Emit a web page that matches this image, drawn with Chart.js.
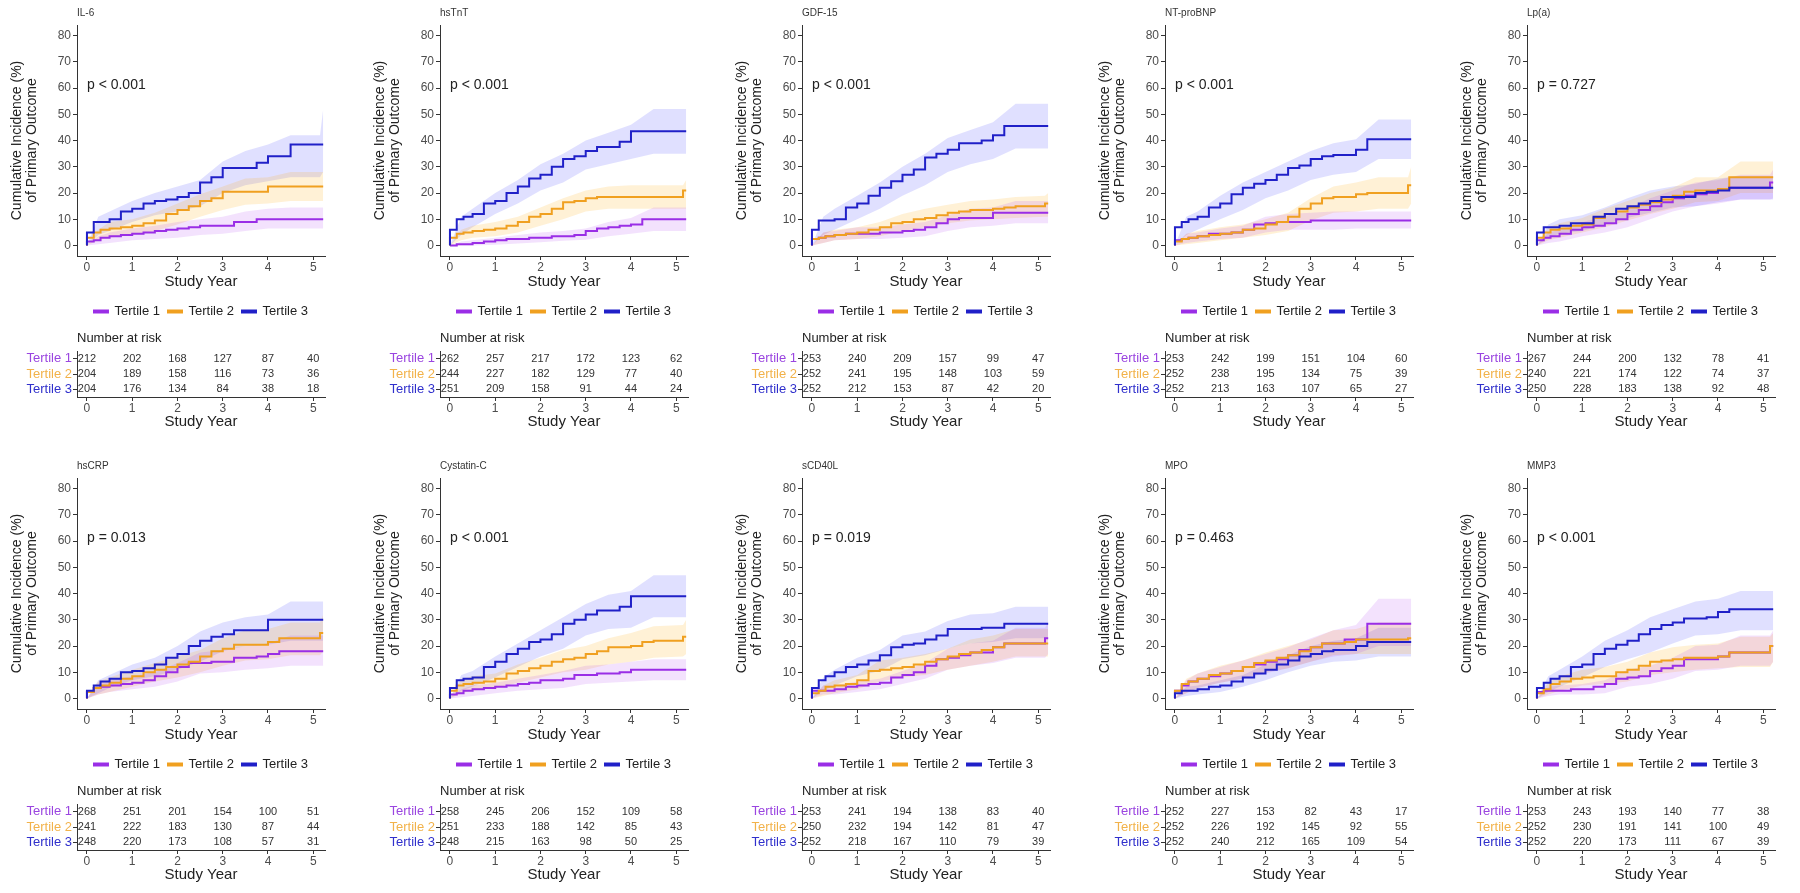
<!DOCTYPE html>
<html>
<head>
<meta charset="utf-8">
<script src="https://cdn.jsdelivr.net/npm/chart.js"></script>
<style>
  body { margin: 0; background: #fff; overflow: hidden; }
  #wrap { position: relative; width: 1800px; height: 893px; background: #fff; }
  #wrap canvas { position: absolute; }
</style>
</head>
<body>
<div id="wrap"></div>
<script>
// ---- data ----
const PANEL_NAMES = ['IL-6', 'hsTnT', 'GDF-15', 'NT-proBNP', 'Lp(a)',
                     'hsCRP', 'Cystatin-C', 'sCD40L', 'MPO', 'MMP3'];
const P_VALUES = ['p < 0.001', 'p < 0.001', 'p < 0.001', 'p < 0.001', 'p = 0.727',
                  'p = 0.013', 'p < 0.001', 'p = 0.019', 'p = 0.463', 'p < 0.001'];
const TERTILES = ['Tertile 1', 'Tertile 2', 'Tertile 3'];
const X_TICKS = [0, 1, 2, 3, 4, 5];
const Y_TICKS = [0, 10, 20, 30, 40, 50, 60, 70, 80];

// time points of the step curves (years)
const TIME_GRID = [0, 0.15, 0.3, 0.5, 0.75, 1, 1.25, 1.5, 1.75, 2, 2.25, 2.5, 2.75, 3, 3.25, 3.5, 3.75, 4, 4.25, 4.5, 5.15, 5.22];
// time points of the confidence bands
const BAND_GRID = [0, 0.25, 0.5, 1, 1.5, 2, 2.5, 3, 3.5, 4, 4.5, 5.15, 5.22];

// cumulative incidence (%) per panel, one row per panel
const EST_T1 = [
  [0, 1.5, 2, 3, 3.5, 4, 4.5, 5, 5.5, 6, 6.5, 7, 7.5, 7.5, 7.5, 9, 9, 10, 10, 10, 10, 10], // IL-6
  [0, 0, 0.5, 0.5, 1, 1.5, 2, 2.5, 2.5, 3, 3, 3.5, 3.5, 4, 5.5, 6.5, 7, 7.5, 8, 10, 10, 10], // hsTnT
  [0, 2.5, 3, 3.5, 4, 4.5, 4.5, 4.5, 5, 5, 5.5, 6, 7, 8.5, 10, 10.5, 10.5, 10.5, 12.5, 12.5, 12.5, 12.5], // GDF-15
  [0, 2, 2.5, 3, 3.5, 4.5, 4.5, 5, 6, 8, 8.5, 9, 9, 9, 9.5, 9.5, 9.5, 9.5, 9.5, 9.5, 9.5, 9.5], // NT-proBNP
  [0, 2, 3, 3.5, 4.5, 6, 7, 7.5, 8.5, 10, 12, 13.5, 15, 16.5, 18, 19, 19.5, 20, 21.5, 22, 22, 24], // Lp(a)
  [0, 2.5, 4, 4.5, 5, 5.5, 6, 7, 8.5, 10, 12, 13.5, 13.5, 14, 14, 15.5, 15.5, 16, 17, 18, 18, 18], // hsCRP
  [0, 1.5, 2, 3, 3.5, 4, 4.5, 5, 5.5, 6, 7, 7, 7.5, 9, 9, 9.5, 9.5, 10, 11, 11, 11, 11], // Cystatin-C
  [0, 3, 3, 3, 3.5, 4.5, 5, 5.5, 6, 8, 9, 10, 12.5, 15, 15.5, 16.5, 17.5, 17.5, 19.5, 21, 21, 23], // sCD40L
  [0, 3, 5, 6.5, 7.5, 8.5, 9.5, 10.5, 12, 13, 14, 15, 16.5, 18.5, 19.5, 21, 21, 22.5, 22.5, 28.5, 28.5, 28.5], // MPO
  [0, 2.5, 3, 3, 3, 3.5, 3.5, 4.5, 5.5, 7.5, 8, 8.5, 10.5, 11.5, 12.5, 15, 15, 15, 16, 17.5, 17.5, 20] // MMP3
];
const EST_T2 = [
  [0, 3, 5, 6, 6.5, 7, 7.5, 8.5, 9.5, 12, 13.5, 15, 17, 18, 20.5, 20.5, 20.5, 20.5, 22.5, 22.5, 22.5, 22.5],
  [0, 3, 4.5, 5, 5.5, 6, 6.5, 7.5, 9, 11, 12, 14, 16.5, 17, 18, 18.5, 18.5, 18.5, 18.5, 18.5, 18.5, 21],
  [0, 2.5, 3, 3.5, 4, 4.5, 5, 6, 7, 8.5, 9, 10, 10.5, 11.5, 12.5, 13, 13.5, 13.5, 14, 14.5, 15, 16],
  [0, 1.5, 2.5, 3, 3.5, 4, 4.5, 5, 6, 6.5, 8, 9, 11, 14, 16, 18, 18.5, 18.5, 19.5, 20, 20, 23],
  [0, 3, 5, 6, 6.5, 7.5, 8, 10.5, 12, 13, 14.5, 15.5, 16.5, 17.5, 19, 20.5, 21, 21, 21.5, 26, 26, 26],
  [0, 2.5, 4, 5, 6, 7.5, 8.5, 10, 11, 12, 13, 14, 16, 18, 19, 20.5, 20.5, 20.5, 21.5, 23, 23, 25],
  [0, 3, 5, 5.5, 6, 6.5, 7.5, 9.5, 10.5, 11.5, 12.5, 14, 15, 15.5, 17, 18, 19.5, 19.5, 20, 21.5, 22, 23.5],
  [0, 2, 3, 4.5, 5, 5.5, 7, 10.5, 11, 11.5, 12, 13, 14, 15, 16, 17, 17.5, 18.5, 19.5, 21, 21, 21],
  [0, 3, 5.5, 6.5, 7.5, 9, 9.5, 10.5, 12, 13.5, 14.5, 15.5, 16.5, 18, 19.5, 21, 21, 21.5, 22.5, 22.5, 22.5, 23],
  [0, 2, 3.5, 5.5, 6.5, 7.5, 8, 8.5, 8.5, 10, 11, 12.5, 14, 14.5, 15, 15.5, 15.5, 15.5, 16, 17.5, 17.5, 20]
];
const EST_T3 = [
  [0, 5, 9, 9, 10, 13, 14, 16, 17, 17.5, 18.5, 20, 24, 26, 29.5, 29.5, 29.5, 31.5, 34, 34, 38.5, 38.5],
  [0, 6, 10, 11, 12, 16, 17, 20, 22.5, 25.5, 27, 30, 33, 34, 36, 37.5, 37.5, 39.5, 43.5, 43.5, 43.5, 43.5],
  [0, 6, 9.5, 9.5, 10, 14.5, 16, 19, 22, 24.5, 27, 29, 33.5, 35, 36.5, 39, 39, 40, 42, 45.5, 45.5, 45.5],
  [0, 7, 9, 10, 11, 14.5, 16, 19.5, 22, 23.5, 25, 27, 29.5, 30.5, 33, 34, 34.5, 34.5, 36.5, 40.5, 40.5, 40.5],
  [0, 5, 7, 7, 7.5, 8.5, 8.5, 11, 12, 14, 15, 16, 17, 18.5, 18.5, 18.5, 20, 20.5, 21, 22, 22, 22],
  [0, 3, 5, 6.5, 7.5, 10, 10.5, 11.5, 13, 15.5, 17, 20, 22, 23.5, 24.5, 26, 26, 26, 30, 30, 30, 30],
  [0, 4, 7, 7.5, 8, 12, 14, 17, 19, 21.5, 22.5, 24.5, 28.5, 30, 32, 33.5, 33.5, 35, 39, 39, 39, 39],
  [0, 4, 7, 8.5, 10, 12, 13, 14.5, 16.5, 19.5, 20.5, 21, 22.5, 24, 26.5, 26.5, 26.5, 27, 27, 28.5, 28.5, 28.5],
  [0, 2, 3, 3, 3.5, 4.5, 5, 6.5, 8, 9.5, 11, 13, 14.5, 16, 17, 18, 18.5, 18.5, 20, 21.5, 21.5, 21.5],
  [0, 4, 6, 7.5, 8.5, 12, 13, 17, 19, 20.5, 22, 24.5, 26.5, 28, 29, 30.5, 30.5, 31, 33, 34, 34, 34]
];

// 95% bands, lower and upper, on BAND_GRID
const LO_T1 = [
  [0, 0.5, 1, 2, 2.5, 3, 4, 4.5, 5.5, 6.5, 6.5, 6.5, 6.5],
  [0, 0, 0, 0.3, 0.8, 1.2, 1.8, 2.2, 3.5, 4.5, 5.5, 5.5, 5.5],
  [0, 1, 2, 2.5, 2.5, 3, 3.5, 5.5, 7, 7.5, 8.5, 8.5, 8.5],
  [0, 1, 1.5, 2.5, 3, 5, 6, 6, 6, 6.5, 6.5, 6.5, 6.5],
  [0, 1, 1.5, 3.5, 5, 7, 10, 13, 15, 16, 17.5, 17.5, 18],
  [0, 1.5, 2.5, 3.5, 4.5, 6.5, 9.5, 10, 11, 11.5, 12.5, 12.5, 12.5],
  [0, 0.5, 1, 2, 3, 3.5, 4, 5.5, 6, 6.5, 7, 7, 7],
  [0, 1.5, 1.5, 2.5, 3.5, 5.5, 7.5, 11, 12.5, 13.5, 15.5, 15.5, 17],
  [0, 2, 4, 6, 7.5, 9.5, 11.5, 14, 16, 17, 20, 20, 20],
  [0, 1, 1.5, 1.5, 2, 4.5, 5.5, 7.5, 10.5, 11, 12.5, 12.5, 14]
];
const HI_T1 = [
  [0, 3.5, 5, 6.5, 7.5, 9, 10, 11, 13, 14, 14.5, 14.5, 14.5],
  [0, 1.5, 2, 3, 4, 5, 5.5, 6.5, 9, 10.5, 14.5, 14.5, 14.5],
  [0, 5, 5.5, 7, 7, 8, 9, 11.5, 14, 14.5, 17, 17, 17],
  [0, 4.5, 5, 6.5, 7.5, 11, 12, 12.5, 13, 13, 13, 13, 13],
  [0, 5, 6, 9, 11, 14, 18, 21, 24, 25, 27, 27, 29],
  [0, 6, 7, 8.5, 10, 13.5, 17.5, 18.5, 20, 21, 24, 24, 24],
  [0, 3.5, 5, 6, 7.5, 9, 10.5, 12.5, 13, 14, 15, 15, 15],
  [0, 5, 5, 6.5, 7.5, 10.5, 13.5, 19, 21, 22, 27, 27, 29],
  [0, 7, 9.5, 12, 14.5, 17, 19.5, 23, 26, 28, 38, 38, 38],
  [0, 4.5, 5, 5.5, 7, 11, 12.5, 15.5, 20, 20.5, 24, 24, 26]
];
const LO_T2 = [
  [0, 2, 3, 4, 5.5, 8, 11, 13.5, 15.5, 16, 17, 17, 17],
  [0, 2, 3, 3.5, 5, 7.5, 10, 13, 14, 14, 14, 14, 14],
  [0, 1, 2, 2.5, 3.5, 5.5, 7, 8.5, 9.5, 10, 10.5, 11, 11],
  [0, 0.5, 1, 2, 3, 4, 5.5, 9.5, 12.5, 13, 14, 14, 16],
  [0, 2, 3, 5, 7, 9.5, 12, 14, 16.5, 17, 20, 20, 20],
  [0, 1.5, 2.5, 4.5, 6.5, 8, 10, 12.5, 14.5, 15, 16.5, 16.5, 18],
  [0, 2, 3, 4, 6, 8, 10, 11, 13, 14, 15.5, 16, 17],
  [0, 1, 2, 3.5, 6.5, 8, 9, 11, 12.5, 14, 16, 16, 16],
  [0, 2, 4, 6, 7.5, 10, 11.5, 14, 16.5, 17, 17, 17, 17],
  [0, 1.5, 3, 5, 5.5, 6.5, 9, 10, 11, 11.5, 12, 12, 14]
];
const HI_T2 = [
  [0, 6, 9, 10, 12.5, 16, 19.5, 22.5, 25.5, 26, 28, 28, 28],
  [0, 6, 7.5, 9, 11, 14.5, 18, 21, 22.5, 23, 23, 23, 25],
  [0, 5, 6, 7, 9, 12, 14, 15.5, 17, 17.5, 18.5, 19, 20],
  [0, 4.5, 5.5, 7, 8, 10, 12.5, 18, 22.5, 24, 26, 26, 30],
  [0, 7, 8.5, 10.5, 14, 17, 20, 22, 26, 26, 32, 32, 32],
  [0, 6.5, 8, 11, 13.5, 16, 18.5, 23, 26, 26.5, 29, 29, 32],
  [0, 7.5, 8.5, 9.5, 13, 15.5, 18.5, 20, 23, 25, 27.5, 28, 30],
  [0, 5, 7, 9, 14.5, 15.5, 17, 19, 22.5, 24, 26.5, 26.5, 26.5],
  [0, 7.5, 9.5, 12.5, 14.5, 17.5, 20, 22.5, 26, 26.5, 29, 29, 29],
  [0, 6, 8.5, 11, 12, 14, 17.5, 19.5, 20.5, 21, 23.5, 23.5, 25]
];
const LO_T3 = [
  [0, 4, 5.5, 9, 11.5, 13, 15, 20, 23, 24.5, 26, 26, 28],
  [0, 4, 7, 12, 16, 21, 24, 29, 31, 33, 35, 35, 35],
  [0, 4, 6, 10, 14, 19, 23, 28, 31, 33, 37, 37, 37],
  [0, 4, 6, 10, 13.5, 18, 21, 25, 27, 28, 33, 33, 33],
  [0, 3, 4.5, 5.5, 8, 10.5, 12.5, 14.5, 15, 16.5, 17.5, 17.5, 17.5],
  [0, 2, 4, 7, 8.5, 11, 14, 18, 20, 20.5, 22, 22, 22],
  [0, 3, 4.5, 8, 12, 16, 19, 24, 26.5, 27, 31, 31, 31],
  [0, 3, 5, 8.5, 10.5, 15, 16.5, 19, 21, 21.5, 23, 23, 23],
  [0, 1, 1.5, 2.5, 4.5, 7, 10, 12.5, 14, 14.5, 16, 16, 16],
  [0, 2.5, 4.5, 8, 12, 15, 17.5, 21, 24, 24.5, 26, 26, 26]
];
const HI_T3 = [
  [0, 11, 13, 17, 20, 22.5, 25, 32, 36, 38.5, 42, 42, 52],
  [0, 11, 14, 20, 25, 31, 35, 40, 43, 46, 52, 52, 52],
  [0, 11, 14, 19, 24, 30, 35, 41, 44, 47, 54, 54, 54],
  [0, 11, 13, 19, 24, 28, 32, 36, 39, 40.5, 48, 48, 48],
  [0, 8, 10, 11.5, 14.5, 18, 21, 22.5, 23.5, 25.5, 26.5, 26.5, 26.5],
  [0, 7, 9, 13, 15.5, 20, 25.5, 29, 31, 32, 37, 37, 37],
  [0, 9, 10.5, 16, 21, 26, 31, 36, 39.5, 41, 47, 47, 47],
  [0, 8, 11, 15.5, 18.5, 24, 25.5, 29.5, 32, 32.5, 35, 35, 35],
  [0, 4.5, 5, 7, 9, 13, 16.5, 20, 22, 23, 27, 27, 27],
  [0, 8.5, 11, 16, 22, 26, 31, 34, 37, 38, 41, 41, 41]
];

// number at risk at years 0..5
const RISK_T1 = [
  [212, 202, 168, 127, 87, 40], [262, 257, 217, 172, 123, 62], [253, 240, 209, 157, 99, 47],
  [253, 242, 199, 151, 104, 60], [267, 244, 200, 132, 78, 41], [268, 251, 201, 154, 100, 51],
  [258, 245, 206, 152, 109, 58], [253, 241, 194, 138, 83, 40], [252, 227, 153, 82, 43, 17],
  [253, 243, 193, 140, 77, 38]
];
const RISK_T2 = [
  [204, 189, 158, 116, 73, 36], [244, 227, 182, 129, 77, 40], [252, 241, 195, 148, 103, 59],
  [252, 238, 195, 134, 75, 39], [240, 221, 174, 122, 74, 37], [241, 222, 183, 130, 87, 44],
  [251, 233, 188, 142, 85, 43], [250, 232, 194, 142, 81, 47], [252, 226, 192, 145, 92, 55],
  [252, 230, 191, 141, 100, 49]
];
const RISK_T3 = [
  [204, 176, 134, 84, 38, 18], [251, 209, 158, 91, 44, 24], [252, 212, 153, 87, 42, 20],
  [252, 213, 163, 107, 65, 27], [250, 228, 183, 138, 92, 48], [248, 220, 173, 108, 57, 31],
  [248, 215, 163, 98, 50, 25], [252, 218, 167, 110, 79, 39], [252, 240, 212, 165, 109, 54],
  [252, 220, 173, 111, 67, 39]
];

// ---- styling ----
const LINE_COLORS = ['#9a2ee6', '#f0a020', '#2020c8'];
const BAND_COLORS = ['rgba(160,32,240,0.13)', 'rgba(255,165,0,0.16)', 'rgba(0,0,255,0.12)'];
const LABEL_COLORS = ['#9a45e0', '#f2b24a', '#3030cc'];
const AXIS_COLOR = '#333';
const TICK_COLOR = '#4d4d4d';
const FONT = '"Liberation Sans", Arial, sans-serif';
const X_MIN = -0.22, X_MAX = 5.26;
const COL_X = [0, 363, 725, 1088, 1450];
const ROW_Y = [0, 453];

Chart.defaults.font.family = FONT;
Chart.defaults.animation = false;

const estSets = [EST_T1, EST_T2, EST_T3];
const loSets = [LO_T1, LO_T2, LO_T3];
const hiSets = [HI_T1, HI_T2, HI_T3];
const riskSets = [RISK_T1, RISK_T2, RISK_T3];

const wrap = document.getElementById('wrap');
function addCanvas(x, y, w, h) {
  const c = document.createElement('canvas');
  c.width = w; c.height = h;
  c.style.left = x + 'px'; c.style.top = y + 'px';
  c.style.width = w + 'px'; c.style.height = h + 'px';
  wrap.appendChild(c);
  return c;
}

// panel name + p value
const panelText = {
  id: 'panelText',
  afterDraw(chart, args, opts) {
    const {ctx, chartArea, scales} = chart;
    ctx.save();
    ctx.fillStyle = '#333';
    ctx.textAlign = 'left';
    ctx.textBaseline = 'middle';
    ctx.font = '10px ' + FONT;
    ctx.fillText(opts.name, chartArea.left, 13);
    ctx.fillStyle = '#222';
    ctx.font = '14px ' + FONT;
    ctx.fillText(opts.pval, scales.x.getPixelForValue(0), scales.y.getPixelForValue(61));
    ctx.restore();
  }
};

// numbers in the risk table
const riskText = {
  id: 'riskText',
  afterDatasetsDraw(chart) {
    const {ctx, chartArea} = chart;
    ctx.save();
    ctx.fillStyle = '#333';
    ctx.textAlign = 'center';
    ctx.textBaseline = 'middle';
    ctx.font = '11px ' + FONT;
    chart.data.datasets.forEach((ds, k) => {
      chart.getDatasetMeta(k).data.forEach((pt, j) => {
        ctx.fillText(String(ds.data[j].n), pt.x, pt.y);
      });
    });
    ctx.textAlign = 'left';
    ctx.fillStyle = '#222';
    ctx.font = '13px ' + FONT;
    ctx.fillText('Number at risk', chartArea.left, 8);
    ctx.restore();
  }
};

function xAxis(height, padBottom) {
  return {
    type: 'linear', min: X_MIN, max: X_MAX,
    afterBuildTicks: s => { s.ticks = X_TICKS.map(v => ({value: v})); },
    afterFit: s => { s.height = height; },
    grid: {drawOnChartArea: false, tickLength: 4, color: AXIS_COLOR},
    border: {color: AXIS_COLOR},
    ticks: {color: TICK_COLOR, font: {size: 12}, padding: 0, maxRotation: 0, autoSkip: false},
    title: {display: true, text: 'Study Year', color: '#222', font: {size: 15},
            padding: {top: 0, bottom: padBottom}}
  };
}

function kmChart(p, cv) {
  const datasets = [];
  for (let k = 0; k < 3; k++) {
    datasets.push({
      label: TERTILES[k],
      data: TIME_GRID.map((t, i) => ({x: t, y: estSets[k][p][i]})),
      borderColor: LINE_COLORS[k],
      backgroundColor: LINE_COLORS[k],
      borderWidth: 2, pointRadius: 0, showLine: true,
      stepped: 'after', fill: false, order: 2 - k
    });
  }
  for (let k = 0; k < 3; k++) {
    const loIndex = datasets.length;
    datasets.push({
      label: 'lower',
      data: BAND_GRID.map((t, i) => ({x: t, y: loSets[k][p][i]})),
      borderWidth: 0, borderColor: 'rgba(0,0,0,0)', pointRadius: 0,
      showLine: true, fill: false, order: 10
    });
    datasets.push({
      label: 'upper',
      data: BAND_GRID.map((t, i) => ({x: t, y: hiSets[k][p][i]})),
      borderWidth: 0, borderColor: 'rgba(0,0,0,0)', pointRadius: 0,
      showLine: true, fill: loIndex, backgroundColor: BAND_COLORS[k], order: 10
    });
  }
  new Chart(cv, {
    type: 'scatter',
    data: {datasets},
    options: {
      responsive: false,
      animation: false,
      layout: {padding: {top: 25, right: 20, left: 0, bottom: 0}},
      plugins: {
        tooltip: {enabled: false},
        panelText: {name: PANEL_NAMES[p], pval: P_VALUES[p]},
        legend: {
          position: 'bottom', fullSize: false,
          labels: {
            boxWidth: 14, boxHeight: 2, padding: 8, color: '#222',
            font: {size: 13},
            filter: item => item.datasetIndex < 3,
            sort: (a, b) => a.datasetIndex - b.datasetIndex
          }
        }
      },
      scales: {
        x: xAxis(41, 6),
        y: {
          type: 'linear', min: -4, max: 84,
          afterBuildTicks: s => { s.ticks = Y_TICKS.map(v => ({value: v})); },
          afterFit: s => { s.width = 77; },
          grid: {drawOnChartArea: false, tickLength: 4, color: AXIS_COLOR},
          border: {color: AXIS_COLOR},
          ticks: {color: TICK_COLOR, font: {size: 12}, padding: 2, autoSkip: false},
          title: {
            display: true,
            text: ['Cumulative Incidence (%)', 'of Primary Outcome'],
            color: '#222', font: {size: 14, lineHeight: 1.07},
            padding: {top: 10, bottom: 0}
          }
        }
      }
    },
    plugins: [panelText]
  });
}

function riskChart(p, cv) {
  const datasets = TERTILES.map((lab, k) => ({
    label: lab,
    data: X_TICKS.map((yr, j) => ({x: yr, y: lab, n: riskSets[k][p][j]})),
    pointRadius: 0, showLine: false
  }));
  new Chart(cv, {
    type: 'scatter',
    data: {datasets},
    options: {
      responsive: false,
      animation: false,
      layout: {padding: {top: 21, right: 20, left: 0, bottom: 0}},
      plugins: {legend: {display: false}, tooltip: {enabled: false}},
      scales: {
        x: xAxis(34, 0),
        y: {
          type: 'category', labels: TERTILES, offset: true,
          afterFit: s => { s.width = 77; },
          grid: {drawOnChartArea: false, tickLength: 4, color: AXIS_COLOR},
          border: {color: AXIS_COLOR},
          ticks: {color: c => LABEL_COLORS[c.index], font: {size: 13}, padding: 1, autoSkip: false}
        }
      }
    },
    plugins: [riskText]
  });
}

for (let p = 0; p < PANEL_NAMES.length; p++) {
  const x = COL_X[p % 5];
  const y = ROW_Y[Math.floor(p / 5)];
  kmChart(p, addCanvas(x, y, 345, 328));
  riskChart(p, addCanvas(x, y + 330, 345, 101));
}
</script>
</body>
</html>
